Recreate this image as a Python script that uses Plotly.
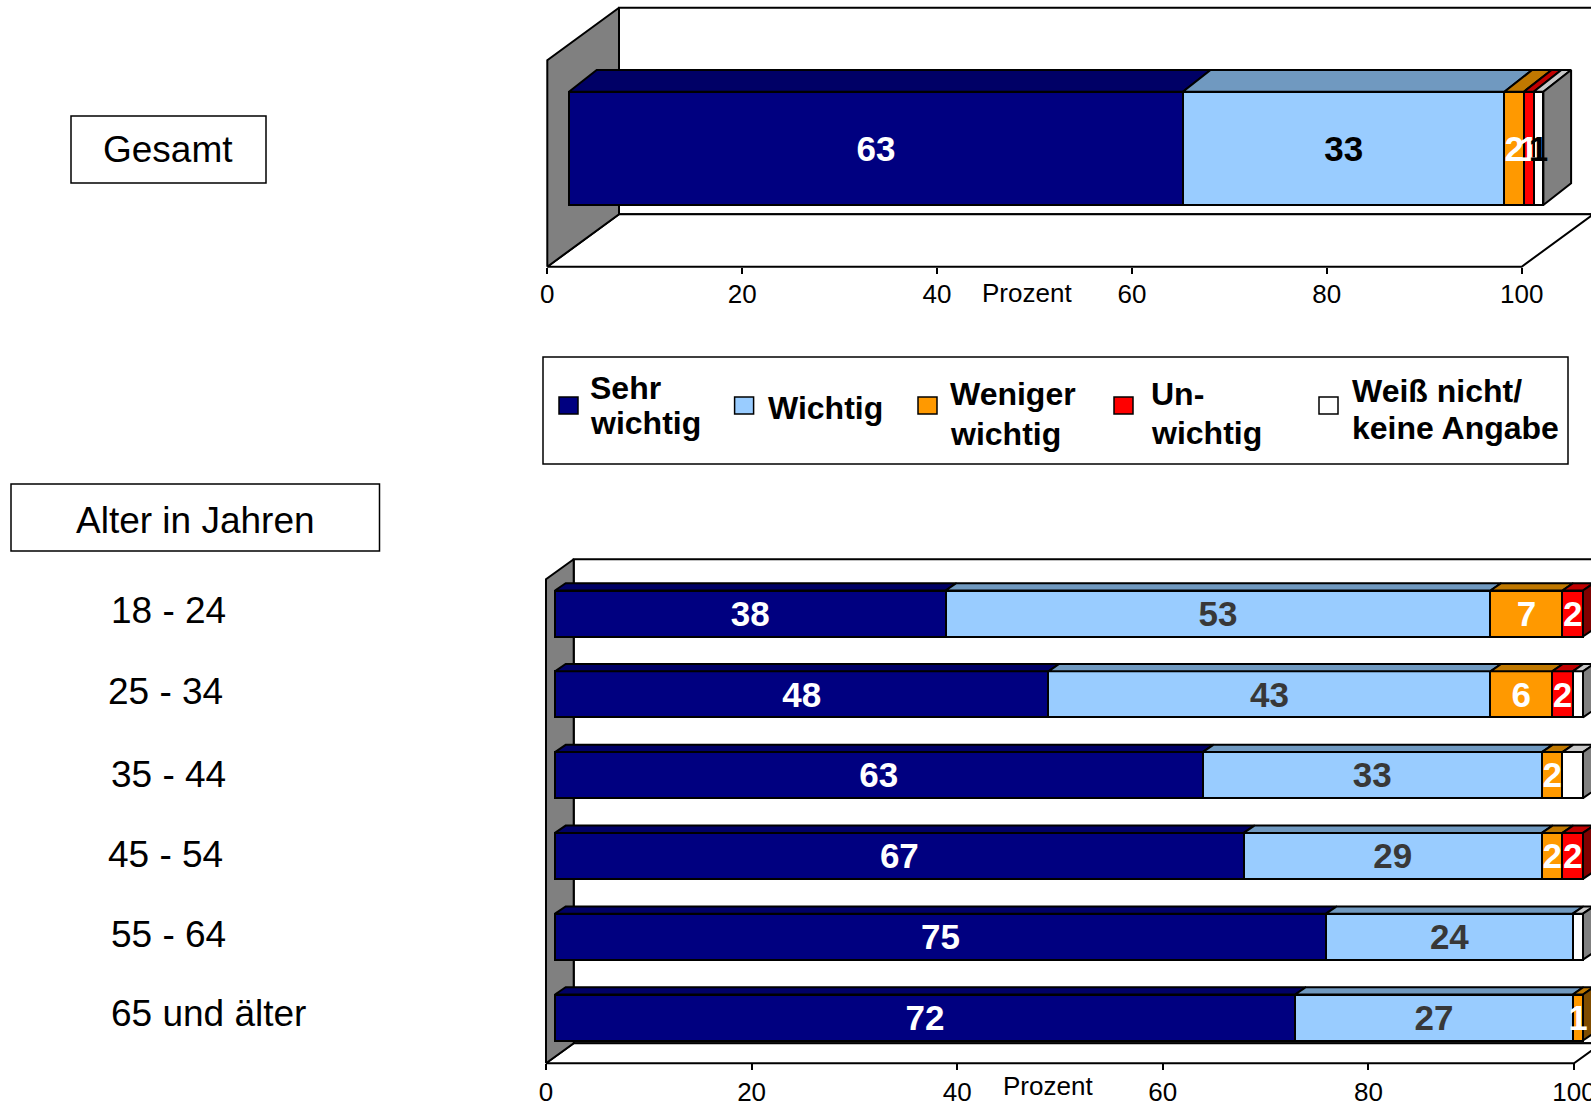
import plotly.graph_objects as go

# ---------- data ----------
series_names = ["Sehr wichtig", "Wichtig", "Weniger wichtig", "Unwichtig", "Weiß nicht/keine Angabe"]
legend_lines = [["Sehr", "wichtig"], ["Wichtig"], ["Weniger", "wichtig"], ["Un-", "wichtig"],
                ["Weiß nicht/", "keine Angabe"]]

gesamt_label = "Gesamt"
gesamt_values = [63, 33, 2, 1, 1]

age_title = "Alter in Jahren"
age_groups = ["18 - 24", "25 - 34", "35 - 44", "45 - 54", "55 - 64", "65 und älter"]
sehr_wichtig = [38, 48, 63, 67, 75, 72]
wichtig = [53, 43, 33, 29, 24, 27]
weniger_wichtig = [7, 6, 2, 2, 0, 1]
unwichtig = [2, 2, 0, 2, 0, 0]
weiss_nicht = [0, 1, 2, 0, 1, 0]
age_values = [sehr_wichtig, wichtig, weniger_wichtig, unwichtig, weiss_nicht]

tick_values = [0, 20, 40, 60, 80, 100]
axis_title = "Prozent"

# ---------- styles ----------
W, H = 1591, 1102
FONT = "Liberation Sans"
front_colors = ["#000080", "#99CCFF", "#FF9900", "#FF0000", "#FFFFFF"]
top_colors = ["#000066", "#7099C0", "#C07800", "#C00000", "#C8C8C8"]
side_colors = ["#000040", "#4C667F", "#7F4C00", "#7F0000", "#808080"]
top_label_colors = ["white", "black", "white", "white", "black"]
age_label_colors = ["white", "#383838", "white", "white", None]
LINE = 2


def xr(p0, ppu):
    return [-p0 / ppu, (W - p0) / ppu]


def yr_up(p0, ppu):
    return [(p0 - H) / ppu, p0 / ppu]


def yr_down(p0, ppu):
    return [(H - p0) / ppu, -p0 / ppu]


def px(x):
    return x / W


def py(y):
    return 1 - y / H


fig = go.Figure()
hidden = dict(visible=False, showgrid=False, zeroline=False, autorange=False, automargin=False)


def add_walls(xa, ya, depth_x, depth_y):
    x0, x1 = 0, tick_values[-1]
    polys = [
        ("#FFFFFF", [depth_x, x1 + depth_x, x1 + depth_x, depth_x, depth_x],
         [depth_y, depth_y, 1 + depth_y, 1 + depth_y, depth_y]),
        ("#FFFFFF", [x0, x1, x1 + depth_x, depth_x, x0], [0, 0, depth_y, depth_y, 0]),
        ("#808080", [x0, depth_x, depth_x, x0, x0], [0, depth_y, 1 + depth_y, 1, 0]),
    ]
    for color, xs, ys in polys:
        fig.add_trace(go.Scatter(x=xs, y=ys, xaxis=xa, yaxis=ya, mode="lines", fill="toself",
                                 fillcolor=color, line=dict(color="black", width=LINE),
                                 hoverinfo="skip", showlegend=False, cliponaxis=False))


def add_bars(xa, ya, rows, positions, thickness, depth_x, depth_y, label_colors, line_w, label_shift):
    n_series = len(rows[0])
    for s in range(n_series):
        fig.add_trace(go.Bar(x=[r[s] for r in rows], y=positions, orientation="h", width=thickness,
                             name=series_names[s], xaxis=xa, yaxis=ya, showlegend=False,
                             marker=dict(color=front_colors[s], line=dict(color="black", width=line_w))))
    # depth faces, derived from the stacked values
    tops = [([], []) for _ in range(n_series)]
    sides = [([], []) for _ in range(n_series)]
    lx, ly, lt, lc = [], [], [], []
    for r, pos in zip(rows, positions):
        start = 0
        front_y = pos - thickness / 2
        last = max(i for i, v in enumerate(r) if v > 0)
        for s, v in enumerate(r):
            if v <= 0:
                continue
            end = start + v
            tops[s][0].extend([start, end, end + depth_x, start + depth_x, start, None])
            tops[s][1].extend([front_y, front_y, front_y - depth_y, front_y - depth_y, front_y, None])
            if s == last:
                back_y = pos + thickness / 2
                sides[s][0].extend([end, end + depth_x, end + depth_x, end, end, None])
                sides[s][1].extend([front_y, front_y - depth_y, back_y - depth_y, back_y, front_y, None])
            if label_colors[s]:
                lx.append(start + v / 2)
                ly.append(pos + label_shift)
                lt.append(str(v))
                lc.append(label_colors[s])
            start = end
    for colors, faces in ((top_colors, tops), (side_colors, sides)):
        for s, (xs, ys) in enumerate(faces):
            if xs:
                fig.add_trace(go.Scatter(x=xs, y=ys, xaxis=xa, yaxis=ya, mode="lines", fill="toself",
                                         fillcolor=colors[s], line=dict(color="black", width=line_w),
                                         hoverinfo="skip", showlegend=False, cliponaxis=False))
    fig.add_trace(go.Scatter(x=lx, y=ly, text=lt, xaxis=xa, yaxis=ya, mode="text",
                             textposition="middle center", cliponaxis=False, hoverinfo="skip",
                             showlegend=False,
                             textfont=dict(family=FONT, size=35, color=lc, weight="bold")))


# ---------- panel geometry ----------
# top panel
T_X0, T_PPU, T_BASE, T_WALL_H = 547.3, 9.744, 266.7, 206.4
T_BAR_X0, T_BAR_Y, T_BAR_H = 569.0, 148.35, 113.3
# bottom panel
B_X0, B_PPU, B_BASE, B_WALL_H = 546.0, 10.28, 1063.3, 484.0
B_BAR_X0, B_BAR_Y, B_PITCH = 555.0, 613.5, 80.8
B_THICK = 46 / 80.8
LABEL_SHIFT_PX = 3.5

add_walls("x", "y", 71.7 / T_PPU, 52.5 / T_WALL_H)
add_bars("x2", "y2", [gesamt_values], [0], 1.0, 27.7 / T_PPU, 21.7 / T_BAR_H, top_label_colors, LINE,
         LABEL_SHIFT_PX / T_BAR_H)
add_walls("x3", "y3", 27.7 / B_PPU, 20.0 / B_WALL_H)
add_bars("x4", "y4", [list(r) for r in zip(*age_values)], list(range(len(age_groups))), B_THICK,
         10.7 / B_PPU, 7.3 / B_PITCH, age_label_colors, LINE, LABEL_SHIFT_PX / B_PITCH)

tick_style = dict(tickmode="array", tickvals=tick_values, ticks="outside", ticklen=6, tickwidth=2,
                  tickcolor="black", showline=False, showgrid=False, zeroline=False, autorange=False,
                  automargin=False, anchor="free", ticklabeloverflow="allow",
                  tickfont=dict(family=FONT, size=26, color="black"))

fig.update_layout(
    template="none",
    width=W, height=H, margin=dict(l=0, r=0, t=0, b=0, pad=0), autosize=False,
    paper_bgcolor="white", plot_bgcolor="rgba(0,0,0,0)", barmode="stack", showlegend=False,
    xaxis=dict(domain=[0, 1], range=xr(T_X0, T_PPU), position=py(T_BASE), ticklabelstandoff=-2, **tick_style),
    yaxis=dict(domain=[0, 1], range=yr_up(T_BASE, T_WALL_H), anchor="free", position=0, **hidden),
    xaxis2=dict(range=xr(T_BAR_X0, T_PPU), overlaying="x", anchor="y2", **hidden),
    yaxis2=dict(range=yr_down(T_BAR_Y, T_BAR_H), overlaying="y", anchor="x2", **hidden),
    xaxis3=dict(range=xr(B_X0, B_PPU), overlaying="x", position=py(B_BASE), ticklabelstandoff=-1, **tick_style),
    yaxis3=dict(range=yr_up(B_BASE, B_WALL_H), overlaying="y", anchor="free", position=0, **hidden),
    xaxis4=dict(range=xr(B_BAR_X0, B_PPU), overlaying="x", anchor="y4", **hidden),
    yaxis4=dict(range=yr_down(B_BAR_Y, B_PITCH), overlaying="y", anchor="x4", **hidden),
)

# ---------- text boxes, labels, legend ----------
annotations = []
shapes = []


def text(s, x, y, size, anchor="left", bold=False):
    annotations.append(dict(text=s, x=px(x), y=py(y), xref="paper", yref="paper", showarrow=False,
                            xanchor=anchor, yanchor="middle", align="left",
                            font=dict(family=FONT, size=size, color="black",
                                      weight="bold" if bold else "normal")))


def box(x0, y0, x1, y1, fill="rgba(0,0,0,0)", w=1.5):
    shapes.append(dict(type="rect", xref="paper", yref="paper", x0=px(x0), x1=px(x1), y0=py(y0), y1=py(y1),
                       line=dict(color="black", width=w), fillcolor=fill))


box(71, 116, 266, 183)
text(gesamt_label, 168, 150, 37, "center")
box(11, 484, 379.5, 551)
text(age_title, 195, 520, 37, "center")

age_label_x = [108.6, 105.6, 108.6, 105.6, 108.6, 108.6]
age_label_y = [610, 692, 774, 854.5, 934.5, 1013]
for label, lxp, lyp in zip(age_groups, age_label_x, age_label_y):
    text(label, lxp, lyp, 37)

text(axis_title, 1027, 293, 26, "center")
text(axis_title, 1048, 1086, 26, "center")

box(543, 357, 1568, 464)
swatch_x = [559, 734.6, 918, 1114, 1319]
legend_text_x = [587.5, 766, 948, 1149, 1349.6]
legend_text_y = [[387.6, 423], [408], [393.7, 434.3], [393.7, 433.3], [390.7, 428.2]]
for c, sx, tx, tys, lines in zip(front_colors, swatch_x, legend_text_x, legend_text_y, legend_lines):
    box(sx, 397, sx + 19, 414, fill=c)
    for ty, line in zip(tys, lines):
        text(line, tx, ty, 32, bold=True)

fig.update_layout(annotations=annotations, shapes=shapes)

fig.write_html("out.html", config={"displayModeBar": False},
               post_script="document.body.style.margin='0';")
